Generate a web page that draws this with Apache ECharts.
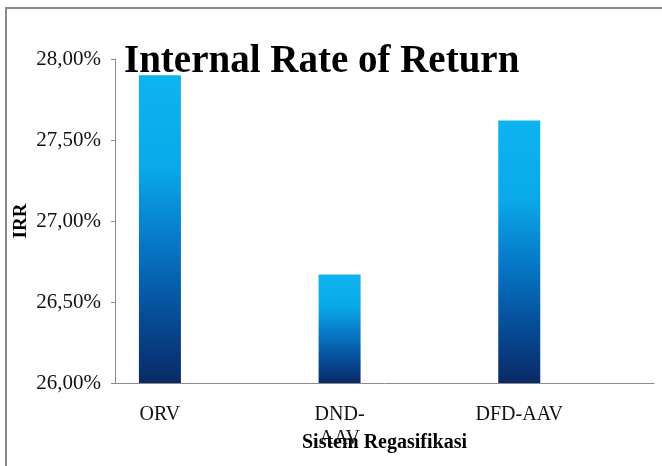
<!DOCTYPE html>
<html lang="en">

<head>
    <meta charset="UTF-8">
    <title>Internal Rate of Return</title>
    <style>
        body {
            margin: 0;
            background: #ffffff;
        }

        #main {
            width: 662px;
            height: 466px;
        }
    </style>
    <script src="https://cdnjs.cloudflare.com/ajax/libs/echarts/6.0.0/echarts.min.js"></script>
</head>

<body>
    <div id="main"></div>
    <script>
        // categories: empty slots between the three systems, as in the original axis
        const categories = ['ORV', '', 'DND-\nAAV', '', 'DFD-AAV', ''];
        const irr = [27.90, null, 26.67, null, 27.62, null];
        const yMin = 26, yMax = 28, yStep = 0.5;

        const chart = echarts.init(document.getElementById('main'));
        const serif = '"Liberation Serif", "Times New Roman", serif';

        const option = {
            backgroundColor: '#ffffff',
            title: {
                text: 'Internal Rate of Return',
                left: 124,
                top: 42,
                padding: 0,
                textStyle: {
                    fontFamily: serif,
                    fontWeight: 'bold',
                    fontSize: 39,
                    color: '#000'
                }
            },
            graphic: [{
                type: 'rect',
                shape: { x: 6, y: 8, width: 720, height: 520 },
                style: { fill: 'none', stroke: '#8a8a8a', lineWidth: 2 },
                silent: true,
                z: 100
            }],
            grid: {
                left: 115,
                right: 8,
                top: 59,
                bottom: 83,
                containLabel: false,
                outerBoundsMode: 'none'
            },
            xAxis: {
                type: 'category',
                data: categories,
                name: 'Sistem Regasifikasi',
                nameLocation: 'middle',
                nameGap: 50,
                nameMoveOverlap: false,
                nameTextStyle: {
                    fontFamily: serif,
                    fontWeight: 'bold',
                    fontSize: 20,
                    color: '#000'
                },
                axisLine: { lineStyle: { color: '#8c8c8c', width: 1 } },
                axisTick: { length: 6, lineStyle: { color: '#8c8c8c' } },
                axisLabel: {
                    interval: 0,
                    margin: 20,
                    fontFamily: serif,
                    fontSize: 20,
                    lineHeight: 24,
                    color: '#111'
                }
            },
            yAxis: {
                type: 'value',
                min: yMin,
                max: yMax,
                interval: yStep,
                name: 'IRR',
                nameLocation: 'middle',
                nameGap: 84,
                nameMoveOverlap: false,
                nameTextStyle: {
                    fontFamily: serif,
                    fontWeight: 'bold',
                    fontSize: 19,
                    color: '#000'
                },
                splitLine: { show: false },
                axisLine: { show: true, lineStyle: { color: '#8c8c8c', width: 1 } },
                axisTick: { show: true, length: 4, lineStyle: { color: '#8c8c8c' } },
                axisLabel: {
                    margin: 14,
                    fontFamily: serif,
                    fontSize: 21,
                    color: '#111',
                    formatter: v => v.toFixed(2).replace('.', ',') + '%'
                }
            },
            series: [{
                type: 'bar',
                data: irr,
                barWidth: 42,
                itemStyle: {
                    color: new echarts.graphic.LinearGradient(0, 0, 0, 1, [
                        { offset: 0, color: '#0db4ef' },
                        { offset: 0.3, color: '#0aa9e8' },
                        { offset: 0.55, color: '#0677c6' },
                        { offset: 0.8, color: '#064a94' },
                        { offset: 1, color: '#0a2a66' }
                    ])
                }
            }]
        };

        chart.setOption(option);
    </script>
</body>

</html>
